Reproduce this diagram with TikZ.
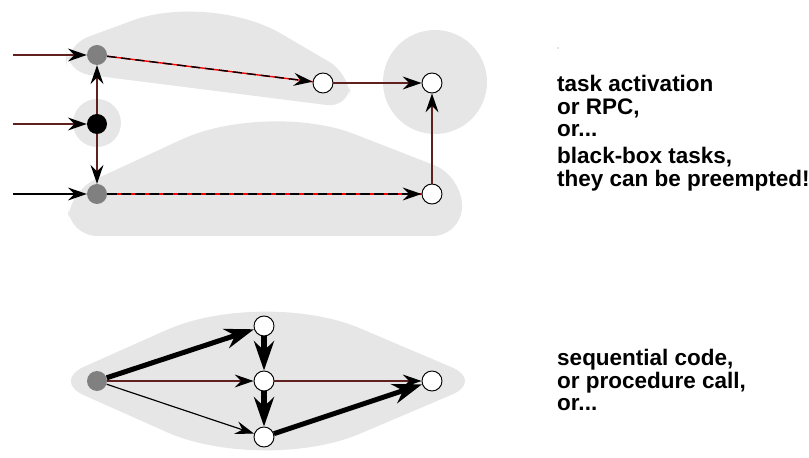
\documentclass[tikz,border=0pt]{standalone}
\usepackage{fontspec}
\setmainfont{Liberation Sans}
\usetikzlibrary{arrows.meta}
\definecolor{wire}{RGB}{96,32,32}
\definecolor{blob}{RGB}{230,230,230}
\definecolor{midgray}{RGB}{128,128,128}

\begin{document}
\begin{tikzpicture}[x=0.03cm,y=-0.03cm,
  >={Stealth[length=16pt,width=11pt,inset=5.5pt,color=black]},
  vertex/.style={shape=circle,inner sep=0pt,minimum size=0.6cm},
  wnode/.style={vertex,draw=black,line width=0.8pt,fill=white},
  gnode/.style={vertex,fill=midgray},
  bnode/.style={vertex,fill=black},
  arr/.style={->,draw=wire,line width=1.3pt},
  slim/.style={->,draw=black,line width=1pt},
  dashline/.style={->,draw=black,line width=1.2pt,dash pattern=on 8pt off 4pt},
  fat/.style={-{Stealth[length=25pt,width=17pt,inset=8pt]},draw=black,line width=4.3pt},
  note/.style={anchor=west,align=left,inner sep=0pt,
    font=\bfseries\fontsize{19.2}{19.4}\selectfont}]
\useasboundingbox (0,0) rectangle (809,458);
% shaded groups
\fill[blob,rounded corners=20] (66,72) -- (66,45) [rounded corners=70] -- (210,-8) [rounded corners=20] -- (350,74) -- (350,108) -- cycle;
\fill[blob] (97,123) circle (24);
\fill[blob] (435,82) circle (52);
\fill[blob,rounded corners=45] (68,236) [rounded corners=25] -- (68,192) [rounded corners=80] -- (267,100) [rounded corners=25] -- (462,176) -- (462,236) -- cycle;
\fill[blob,rounded corners=30] (52,381) [rounded corners=90] -- (263,287) [rounded corners=30] -- (484,381) [rounded corners=90] -- (263,475) [rounded corners=30] -- cycle;
\fill[midgray] (558,48) circle (0.6);
% upper graph
\node[gnode] (1) at (97,55) {};
\node[bnode] (2) at (97,124) {};
\node[gnode] (3) at (97,194) {};
\node[wnode] (4) at (323,83) {};
\node[wnode] (5) at (432,83) {};
\node[wnode] (6) at (432,194) {};
\coordinate (i1) at (13,55);
\coordinate (i2) at (13,124);
\coordinate (i3) at (13,194);
\path (i1) edge[arr] (1);
\path (i2) edge[arr] (2);
\path (i3) edge[slim] (3);
\path (2) edge[arr] (1);
\path (2) edge[arr] (3);
\path (1) edge[draw=red,line width=1.2pt] (4);
\path (1) edge[dashline] (4);
\path (3) edge[draw=red,line width=1.2pt] (6);
\path (3) edge[dashline] (6);
\path (4) edge[arr] (5);
\path (6) edge[arr] (5);
% lower graph
\node[gnode] (7) at (97,381) {};
\node[wnode] (8) at (264,326) {};
\node[wnode] (9) at (264,381) {};
\node[wnode] (10) at (264,437) {};
\node[wnode] (11) at (432,381) {};
\path (7) edge[fat] (8);
\path (7) edge[arr,line width=1pt] (9);
\path (7) edge[slim] (10);
\path (8) edge[fat] (9);
\path (9) edge[fat] (10);
\path (9) edge[arr,line width=1pt] (11);
\path (10) edge[fat] (11);
% text
\node[note] (t1) at (557,106) {task activation\\or RPC,\\or...};
\node[note] (t2) at (557,169) {black-box tasks,\\they can be preempted!};
\node[note] (t3) at (557,380) {sequential code,\\or procedure call,\\or...};
\end{tikzpicture}
\end{document}
